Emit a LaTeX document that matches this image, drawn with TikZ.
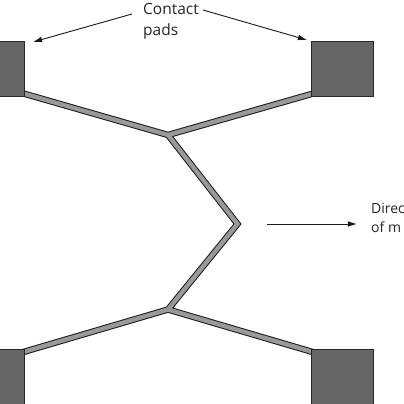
\documentclass[tikz,border=0pt]{standalone}
\usepackage{fontspec}
\setmainfont{Open Sans}
\usetikzlibrary{arrows.meta, positioning}

\begin{document}
\begin{tikzpicture}[
        x=1pt, y=-1pt,
        node distance=10pt,
        pad/.style={draw=black!85, line width=0.8pt, fill=black!60, minimum width=62pt, minimum height=55pt, inner sep=0pt},
        beam/.style={draw=black!90, line width=1pt, double=black!40, double distance=4.4pt, line join=miter},
        flecha/.style={-{Latex[length=3.2mm, width=2mm]}, line width=0.9pt, draw=black!90},
        rotulo/.style={align=left, inner sep=0pt, font=\fontsize{15.5}{21}\selectfont, text=black!85}
    ]
        \useasboundingbox (0,0) rectangle (404,404);
        \coordinate (endTL) at (20,92.5);
        \coordinate (endTR) at (315,93);
        \coordinate (endBL) at (20,353);
        \coordinate (endBR) at (315,352.7);
        \coordinate (juncT) at (168,135);
        \coordinate (apex) at (237.5,224);
        \coordinate (juncB) at (168,309.5);
        \coordinate (tipTL) at (33,42);
        \coordinate (tipTR) at (307,40);
        \coordinate (tailM) at (267,224);
        % the strips share one path so that they merge at the junctions
        \draw[beam] (endTL) -- (juncT) -- (endTR)
            (juncT) -- (apex) -- (juncB)
            (endBL) -- (juncB) -- (endBR);
        \node[pad] (padTL) at (-6.5,68.5) {};
        \node[pad, right=286.5pt of padTL] (padTR) {};
        \node[pad, below=253pt of padTL] (padBL) {};
        \node[pad, right=286.5pt of padBL] (padBR) {};
        \node[rotulo, anchor=north west] (contact) at (143,3) {Contact\\pads};
        \node[rotulo, anchor=north west, font=\fontsize{14}{19}\selectfont] (motion) at (371,203) {Direc\\of m};
        \draw[flecha] ([xshift=-11pt, yshift=-11pt]contact.north west) -- (tipTL);
        \draw[flecha] ([xshift=4pt, yshift=-7pt]contact.north east) -- (tipTR);
        \draw[flecha] (tailM) -- ([xshift=-14pt]motion.west |- tailM);
    \end{tikzpicture}
\end{document}
